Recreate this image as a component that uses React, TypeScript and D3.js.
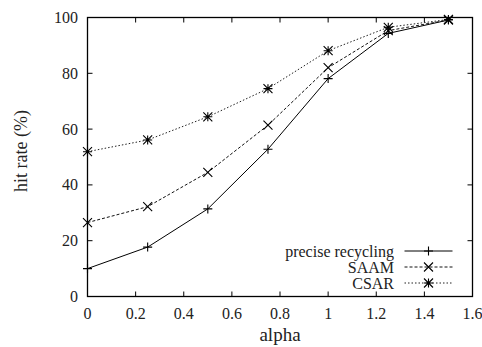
import React from "react";
import * as d3 from "d3";

const alphas = [0, 0.25, 0.5, 0.75, 1.0, 1.25, 1.5];
const precise = [10.0, 17.7, 31.4, 52.8, 78.1, 94.3, 99.1];
const saam = [26.5, 32.2, 44.5, 61.4, 82.0, 95.3, 99.1];
const csar = [51.9, 56.1, 64.4, 74.5, 88.1, 96.5, 99.3];
const xTicks = [0, 0.2, 0.4, 0.6, 0.8, 1, 1.2, 1.4, 1.6];
const yTicks = [0, 20, 40, 60, 80, 100];
const seriesNames = ["precise recycling", "SAAM", "CSAR"];

const W = 482, H = 347;
const L = 87.5, R = 472.5, T = 17.5, B = 296.5;
const FONT = "Liberation Serif, Times New Roman, Times, DejaVu Serif, serif";

function Marker({ kind, x, y }: { kind: string; x: number; y: number }) {
  const s = 4.5;
  const st = { stroke: "#000", strokeWidth: 1.1, fill: "none" };
  if (kind === "plus")
    return <path d={`M${x - s},${y}H${x + s}M${x},${y - s}V${y + s}`} {...st} />;
  if (kind === "cross")
    return <path d={`M${x - s},${y - s}L${x + s},${y + s}M${x - s},${y + s}L${x + s},${y - s}`} {...st} />;
  return (
    <path
      d={`M${x - s},${y}H${x + s}M${x},${y - s}V${y + s}M${x - s},${y - s}L${x + s},${y + s}M${x - s},${y + s}L${x + s},${y - s}`}
      {...st}
    />
  );
}

function Txt(props: any) {
  const { children, size, ...rest } = props;
  return (
    <text {...rest} fill="#222" style={{ fontFamily: FONT, fontSize: size + "px" }}>
      {children}
    </text>
  );
}

export default function App() {
  const x = d3.scaleLinear().domain([0, 1.6]).range([L, R]);
  const y = d3.scaleLinear().domain([0, 100]).range([B, T]);
  const line = d3.line<[number, number]>().x((d) => x(d[0])).y((d) => y(d[1]));
  const series = [
    { name: seriesNames[0], vals: precise, kind: "plus", dash: "none", color: "#000" },
    { name: seriesNames[1], vals: saam, kind: "cross", dash: "3,2", color: "#111" },
    { name: seriesNames[2], vals: csar, kind: "star", dash: "1.5,2", color: "#222" },
  ];
  const tk = 5;
  return (
    <svg width={W} height={H} style={{ position: "absolute", left: 0, top: 0, background: "#fff" }}>
      <rect width={W} height={H} fill="#fff" />
      {xTicks.map((t) => (
        <g key={"x" + t}>
          <path d={`M${x(t)},${B}V${B - tk}M${x(t)},${T}V${T + tk}`} stroke="#000" strokeWidth={1} />
          <Txt x={x(t)} y={319} textAnchor="middle" size={16}>
            {String(t)}
          </Txt>
        </g>
      ))}
      {yTicks.map((t) => (
        <g key={"y" + t}>
          <path d={`M${L},${y(t)}H${L + tk}M${R},${y(t)}H${R - tk}`} stroke="#000" strokeWidth={1} />
          <Txt x={78} y={y(t) + 5.5} textAnchor="end" size={16}>
            {String(t)}
          </Txt>
        </g>
      ))}
      <rect x={L} y={T} width={R - L} height={B - T} fill="none" stroke="#000" strokeWidth={1.3} />
      {series.map((s) => (
        <g key={s.name}>
          <path
            d={line(alphas.map((a, i) => [a, s.vals[i]] as [number, number])) || ""}
            fill="none"
            stroke={s.color}
            strokeWidth={1}
            strokeDasharray={s.dash}
          />
          {alphas.map((a, i) => (
            <Marker key={i} kind={s.kind} x={x(a)} y={y(s.vals[i])} />
          ))}
        </g>
      ))}
      {series.map((s, i) => {
        const ly = 251 + i * 16;
        return (
          <g key={"leg" + s.name}>
            <Txt x={394} y={ly + 5.5} textAnchor="end" size={16}>
              {s.name}
            </Txt>
            <path d={`M404.5,${ly}H452.5`} stroke={s.color} strokeWidth={1} strokeDasharray={s.dash} />
            <Marker kind={s.kind} x={428.5} y={ly} />
          </g>
        );
      })}
      <Txt x={(L + R) / 2} y={341} textAnchor="middle" size={19}>
        alpha
      </Txt>
      <Txt transform={`translate(27,151) rotate(-90)`} textAnchor="middle" size={18}>
        hit rate (%)
      </Txt>
    </svg>
  );
}
